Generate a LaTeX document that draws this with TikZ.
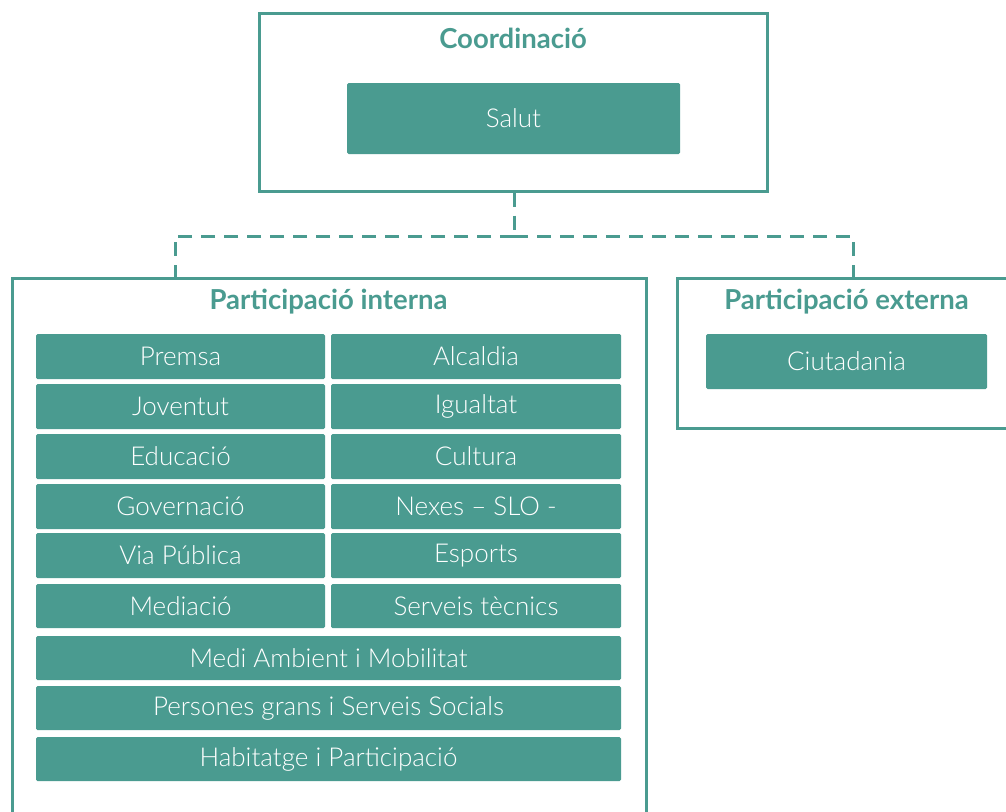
\documentclass[tikz,border=0pt]{standalone}
\usepackage{fontspec}
\setmainfont{Lato}
\newfontfamily\lightfont{Lato Light}
\usetikzlibrary{calc}
\definecolor{teal}{RGB}{74,155,144}
\tikzset{
  cell/.style={draw=none, fill=teal, text=white, rounded corners=1.5pt, inner sep=0pt,
    font=\lightfont\fontsize{26}{30}\selectfont},
  frame/.style={draw=teal, line width=3pt, fill=none, inner sep=0pt},
  title/.style={text=teal, font=\bfseries\fontsize{27.5}{32}\selectfont, inner sep=0pt},
  dashline/.style={draw=teal, line width=3pt, dash pattern=on 14pt off 9pt},
}
\begin{document}
\begin{tikzpicture}[x=1pt,y=-1pt]
\useasboundingbox (0,0) rectangle (1006,811);
\clip (0,0) rectangle (1006,811);
% top frame
\node[frame, minimum width=508pt, minimum height=178pt] (coord) at (513,102) {};
\node[title] (coordt) at (513,38) {Coordinació};
\node[cell, minimum width=333pt, minimum height=71pt] (salut) at (513.5,118.5) {Salut};
% internal frame
\node[frame, minimum width=634pt, minimum height=552pt] (interna) at (329,554) {};
\node[title] (internat) at (328.5,302) {Participació interna};
% external frame
\node[frame, minimum width=340pt, minimum height=150pt] (externa) at (847,353) {};
\node[title] (externat) at (846.5,302) {Participació externa};
\node[cell, minimum width=281pt, minimum height=55pt] (ciut) at (846.5,361.5) {Ciutadania};
% cells
\node[cell, minimum width=289pt, minimum height=45pt] (premsa) at (180.5,356.5) {Premsa};
\node[cell, minimum width=290pt, minimum height=45pt] (alcaldia) at (476,356.5) {Alcaldia};
\node[cell, minimum width=289pt, minimum height=45pt] (joventut) at (180.5,406.5) {Joventut};
\node[cell, minimum width=290pt, minimum height=45pt] (igualtat) at (476,406.5) {Igualtat};
\node[cell, minimum width=289pt, minimum height=45pt] (educacio) at (180.5,456.5) {Educació};
\node[cell, minimum width=290pt, minimum height=45pt] (cultura) at (476,456.5) {Cultura};
\node[cell, minimum width=289pt, minimum height=45pt] (governacio) at (180.5,506.5) {Governació};
\node[cell, minimum width=290pt, minimum height=45pt] (nexes) at (476,506.5) {Nexes – SLO -};
\node[cell, minimum width=289pt, minimum height=45pt] (via) at (180.5,555.5) {Via Pública};
\node[cell, minimum width=290pt, minimum height=45pt] (esports) at (476,555.5) {Esports};
\node[cell, minimum width=289pt, minimum height=44pt] (mediacio) at (180.5,606) {Mediació};
\node[cell, minimum width=290pt, minimum height=44pt] (serveis) at (476,606) {Serveis tècnics};
\node[cell, minimum width=585pt, minimum height=44pt] (medi) at (328.5,658) {Medi Ambient i Mobilitat};
\node[cell, minimum width=585pt, minimum height=44pt] (persones) at (328.5,708) {Persones grans i Serveis Socials};
\node[cell, minimum width=585pt, minimum height=44pt] (habitatge) at (328.5,759) {Habitatge i Participació};
% connectors
\coordinate (j) at (514,236);
\coordinate (li) at (175,236);
\coordinate (ri) at (853,236);
\draw[dashline] (coord.south -| j) -- (j);
\draw[dashline] (j) -- (li) -- (li |- interna.north);
\draw[dashline] (j) -- (ri) -- (ri |- externa.north);
\end{tikzpicture}
\end{document}
